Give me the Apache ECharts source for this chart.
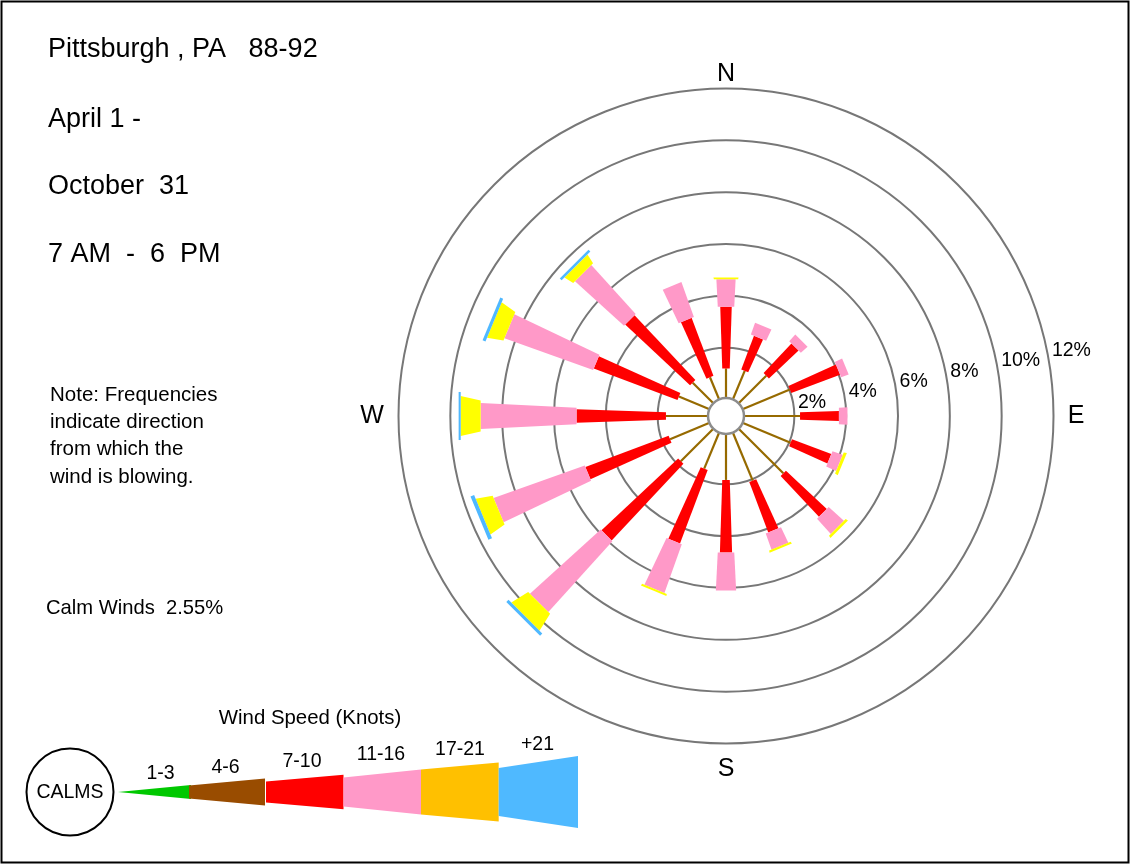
<!DOCTYPE html>
<html><head><meta charset="utf-8">
<script src="https://cdn.jsdelivr.net/npm/echarts@6/dist/echarts.min.js"></script>
<style>html,body{margin:0;padding:0;background:#fff}#chart{width:1131px;height:865px}</style>
</head><body><div id="chart"></div>
<script>
// ---------- DATA (frequencies in %) ----------
const directions = ['N','NNE','NE','ENE','E','ESE','SE','SSE','S','SSW','SW','WSW','W','WNW','NW','NNW'];
const dirAngles  = [0,22.5,45,67.5,90,112.5,135,157.5,180,202.5,225,247.5,270,292.5,315,337.5];
const speed4to6   = [1.20,1.25,1.56,2.03,2.22,2.06,2.49,2.06,1.83,1.56,1.83,1.70,1.68,1.33,1.18,0.98];
const speed7to10  = [2.38,1.39,1.57,2.01,1.50,1.62,2.16,2.08,2.80,3.03,4.05,3.43,3.45,3.45,3.43,2.39];
const speed11to16 = [1.06,0.48,0.35,0.31,0.33,0.42,0.79,0.66,1.47,1.99,3.68,3.73,3.70,3.63,2.55,1.43];
const speed17to21 = [0.07,0,0,0,0,0.12,0.10,0.08,0,0.08,0.75,0.65,0.77,0.63,0.39,0];
const speedOver21 = [0,0,0,0,0,0,0,0,0,0,0.12,0.15,0.08,0.12,0.10,0];
const ringTicks   = [2,4,6,8,10,12];
const ringLabels  = ['2%','4%','6%','8%','10%','12%'];
const compassLabels = ['N','E','S','W'];
const compassAngles = [0,90,180,270];
const legendLabels = ['1-3','4-6','7-10','11-16','17-21','+21'];
const titleLines = ['Pittsburgh , PA   88-92','April 1 -','October  31','7 AM  -  6  PM'];
const noteLines  = ['Note: Frequencies','indicate direction','from which the','wind is blowing.'];
const calmPct = 2.55;

// ---------- STYLE ----------
const FONT = '"Liberation Sans", Arial, Helvetica, sans-serif';
const C_SPOKE = '#966a00', C_RED = '#ff0000', C_PINK = '#ff99c8', C_YEL = '#ffff00', C_BLUE = '#4fb8ff';
const legendColors = ['#00c800','#994c00','#ff0000','#ff99c8','#ffc000','#4fb9ff'];
const compassGap = [14.5, 22.5, 25.5, 26.5];

const chart = echarts.init(document.getElementById('chart'), null, {renderer: 'canvas'});

function quad(pa, pb, nx, ny, wa, wb, color) {
  return {type: 'polygon', shape: {points: [
    [pa[0] + nx * wa / 2, pa[1] + ny * wa / 2],
    [pb[0] + nx * wb / 2, pb[1] + ny * wb / 2],
    [pb[0] - nx * wb / 2, pb[1] - ny * wb / 2],
    [pa[0] - nx * wa / 2, pa[1] - ny * wa / 2]]},
    style: {fill: color}};
}

function renderPetal(params, api) {
  const i = api.value(2);
  const ang = dirAngles[i];
  const cx = params.coordSys.cx, cy = params.coordSys.cy;
  const vals = [speed4to6[i], speed7to10[i], speed11to16[i], speed17to21[i], speedOver21[i]];
  const cum = [0];
  vals.forEach(v => cum.push(cum[cum.length - 1] + v));
  const pts = cum.map(c => api.coord([c, ang]));
  const rad = pts.map(p => Math.hypot(p[0] - cx, p[1] - cy));
  const ux = (pts[5][0] - cx) / rad[5], uy = (pts[5][1] - cy) / rad[5];
  const nx = -uy, ny = ux;
  const children = [];
  children.push({type: 'line', shape: {x1: pts[0][0], y1: pts[0][1], x2: pts[1][0], y2: pts[1][1]},
    style: {stroke: C_SPOKE, lineWidth: 2.2}});
  let L = rad[2] - rad[1];
  let ws = 7.5, we = 7.5 + 0.065 * L;
  if (L > 0.3) children.push(quad(pts[1], pts[2], nx, ny, ws, we, C_RED));
  L = rad[3] - rad[2];
  ws = 16.5; we = 16.5 + 0.1 * L;
  if (L > 0.3) children.push(quad(pts[2], pts[3], nx, ny, ws, we, C_PINK));
  L = rad[4] - rad[3];
  ws = we + 5; we = ws + 0.45 * L;
  if (L > 0.3) children.push(quad(pts[3], pts[4], nx, ny, ws, we, C_YEL));
  L = rad[5] - rad[4];
  ws = we + 8; we = ws;
  if (L > 0.3) children.push(quad(pts[4], pts[5], nx, ny, ws, we, C_BLUE));
  return {type: 'group', children};
}

function renderCalm(params, api) {
  const cx = params.coordSys.cx, cy = params.coordSys.cy;
  const p = api.coord([0, 0]);
  const r = Math.hypot(p[0] - cx, p[1] - cy) + 1.5;
  return {type: 'circle', shape: {cx, cy, r}, style: {fill: '#fff', stroke: '#8c8c8c', lineWidth: 2.5}};
}

function renderRingLabel(params, api) {
  const p = api.coord([api.value(0), api.value(1)]);
  return {type: 'text', x: p[0] + 5, y: p[1],
    style: {text: ringLabels[api.value(2)], font: '19.5px ' + FONT, fill: '#000',
      textAlign: 'left', textVerticalAlign: 'middle', align: 'left', verticalAlign: 'middle'}};
}

function renderCompass(params, api) {
  const cx = params.coordSys.cx, cy = params.coordSys.cy;
  const k = api.value(2);
  const p = api.coord([api.value(0), api.value(1)]);
  const r = Math.hypot(p[0] - cx, p[1] - cy);
  const ux = (p[0] - cx) / r, uy = (p[1] - cy) / r;
  return {type: 'text', x: p[0] + ux * compassGap[k], y: p[1] + uy * compassGap[k],
    style: {text: compassLabels[k], font: '25px ' + FONT, fill: '#000',
      textAlign: 'center', textVerticalAlign: 'middle', align: 'center', verticalAlign: 'middle'}};
}

// ---------- graphic (text panel, legend, frame) ----------
const graphics = [];
graphics.push({type: 'rect', shape: {x: 1.5, y: 1.5, width: 1127, height: 861},
  style: {fill: null, stroke: '#000', lineWidth: 2}, silent: true});
const titleY = [50, 120, 187, 255];
titleLines.forEach((t, k) => graphics.push({type: 'text', x: 48, y: titleY[k],
  style: {text: t, font: '27px ' + FONT, fill: '#000', textAlign: 'left', textVerticalAlign: 'middle'}}));
noteLines.forEach((t, k) => graphics.push({type: 'text', x: 50, y: 395 + k * 27.3,
  style: {text: t, font: '20.5px ' + FONT, fill: '#000', textAlign: 'left', textVerticalAlign: 'middle'}}));
graphics.push({type: 'text', x: 46, y: 608,
  style: {text: 'Calm Winds  ' + calmPct.toFixed(2) + '%', font: '20.2px ' + FONT, fill: '#000',
    textAlign: 'left', textVerticalAlign: 'middle'}});
graphics.push({type: 'text', x: 310, y: 718,
  style: {text: 'Wind Speed (Knots)', font: '20.4px ' + FONT, fill: '#000', textAlign: 'center', textVerticalAlign: 'middle'}});
// legend
const LC = 792;
graphics.push({type: 'circle', shape: {cx: 70, cy: LC, r: 43.5}, style: {fill: '#fff', stroke: '#000', lineWidth: 2}});
graphics.push({type: 'text', x: 70, y: LC + 1,
  style: {text: 'CALMS', font: '19.5px ' + FONT, fill: '#000', textAlign: 'center', textVerticalAlign: 'middle'}});
const legX = [[118, 191], [189, 265], [266, 343.5], [343.5, 421], [421, 498.7], [498.7, 578]];
const legH = [[0, 7], [6.5, 13.5], [10.5, 17.3], [14.5, 22.4], [22.4, 29.6], [24, 36]];
const legLabX = [160.5, 225.5, 302, 381, 460, 537.5];
const legLabY = [773.5, 767.5, 761.5, 755, 749.5, 745];
legendLabels.forEach((lab, k) => {
  const [x0, x1] = legX[k], [h0, h1] = legH[k];
  graphics.push({type: 'polygon', shape: {points: [[x0, LC - h0], [x1, LC - h1], [x1, LC + h1], [x0, LC + h0]]},
    style: {fill: legendColors[k]}});
  graphics.push({type: 'text', x: legLabX[k], y: legLabY[k],
    style: {text: lab, font: '19.5px ' + FONT, fill: '#000', textAlign: 'center', textVerticalAlign: 'middle'}});
});

const option = {
  backgroundColor: '#fff',
  animation: false,
  polar: {center: [726, 416], radius: [16.5, 327.5]},
  angleAxis: {type: 'value', min: 0, max: 360, startAngle: 90, clockwise: true,
    axisLine: {show: false}, axisTick: {show: false}, axisLabel: {show: false}, splitLine: {show: false}},
  radiusAxis: {type: 'value', min: 0, max: 12, interval: 2,
    axisLine: {show: false}, axisTick: {show: false}, axisLabel: {show: false},
    splitLine: {show: true, lineStyle: {color: '#777777', width: 2}}},
  graphic: graphics,
  series: [
    {type: 'custom', coordinateSystem: 'polar', clip: false, silent: true, renderItem: renderPetal,
      data: directions.map((d, i) => [0, dirAngles[i], i])},
    {type: 'custom', coordinateSystem: 'polar', clip: false, silent: true, renderItem: renderCalm,
      data: [[0, 0, 0]]},
    {type: 'custom', coordinateSystem: 'polar', clip: false, silent: true, renderItem: renderRingLabel,
      data: ringTicks.map((v, k) => [v, 78.5, k])},
    {type: 'custom', coordinateSystem: 'polar', clip: false, silent: true, renderItem: renderCompass,
      data: compassAngles.map((a, k) => [12, a, k])}
  ]
};
chart.setOption(option);
</script></body></html>
